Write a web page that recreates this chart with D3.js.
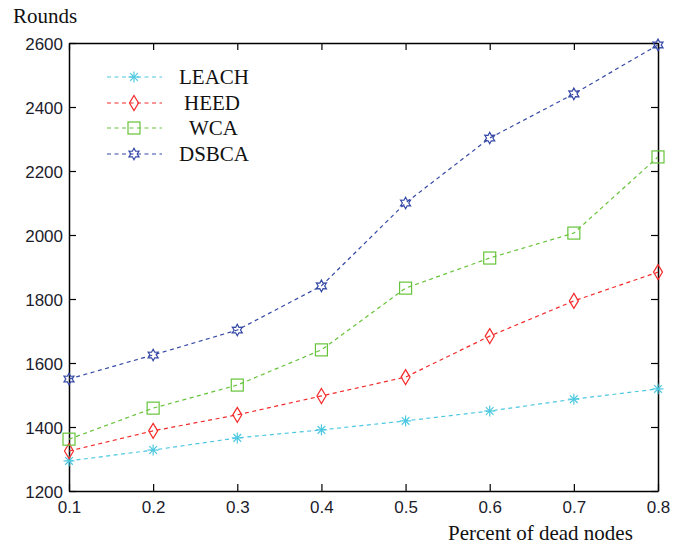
<!DOCTYPE html>
<html><head><meta charset="utf-8">
<script src="https://cdn.jsdelivr.net/npm/d3@7"></script>
<style>body{margin:0;background:#fff}svg{display:block}</style>
</head><body>
<script>
const xValues = [0.1, 0.2, 0.3, 0.4, 0.5, 0.6, 0.7, 0.8];
const leach = [1294, 1328, 1366, 1391, 1419, 1450, 1487, 1519];
const heed  = [1325, 1388, 1438, 1497, 1556, 1684, 1794, 1884];
const wca   = [1362, 1459, 1531, 1641, 1834, 1928, 2006, 2244];
const dsbca = [1550, 1625, 1703, 1841, 2100, 2303, 2441, 2594];
const seriesNames = ["LEACH", "HEED", "WCA", "DSBCA"];
const yTicks = [1200, 1400, 1600, 1800, 2000, 2200, 2400, 2600];
const xTicks = [0.1, 0.2, 0.3, 0.4, 0.5, 0.6, 0.7, 0.8];

const W = 678, H = 546;
const m = {left: 69, right: 658, top: 43, bottom: 491};
const svg = d3.select("body").append("svg").attr("width", W).attr("height", H);
const x = d3.scaleLinear().domain([0.1, 0.8]).range([m.left, m.right]);
const y = d3.scaleLinear().domain([1200, 2600]).range([m.bottom, m.top]);

const colors = ["#4cc8e0", "#f42a2a", "#66c43a", "#3549a6"];
const data = [leach, heed, wca, dsbca];
const tickFont = "'Liberation Sans', Arial, sans-serif";
const serif = "'Liberation Serif', 'Times New Roman', serif";

// axes (ticks inward)
const tl = 7;
const gx = svg.append("g").attr("transform", `translate(0,${m.bottom})`)
  .call(d3.axisBottom(x).tickValues(xTicks).tickFormat(d3.format(".1f")).tickSizeInner(-tl).tickSizeOuter(0).tickPadding(10));
const gxt = svg.append("g").attr("transform", `translate(0,${m.top})`)
  .call(d3.axisTop(x).tickValues(xTicks).tickFormat("").tickSizeInner(-tl).tickSizeOuter(0));
const gy = svg.append("g").attr("transform", `translate(${m.left},0)`)
  .call(d3.axisLeft(y).tickValues(yTicks).tickFormat(d3.format("d")).tickSizeInner(-tl).tickSizeOuter(0).tickPadding(6));
const gyr = svg.append("g").attr("transform", `translate(${m.right},0)`)
  .call(d3.axisRight(y).tickValues(yTicks).tickFormat("").tickSizeInner(-tl).tickSizeOuter(0));
[gx, gxt, gy, gyr].forEach(g => {
  g.select(".domain").attr("stroke", "#000").attr("stroke-width", 1.5);
  g.selectAll(".tick line").attr("stroke", "#000").attr("stroke-width", 1.2);
  g.selectAll("text").attr("font-family", tickFont).attr("font-size", 17).attr("fill", "#1c1c2c");
});
gy.selectAll("text").attr("dy", "0.38em");

// markers
function marker(g, type, cx, cy, color) {
  const s = g.append("g").attr("transform", `translate(${cx},${cy})`)
    .attr("fill", "none").attr("stroke", color).attr("stroke-width", 1.2);
  if (type === 0) {
    const r = 5.5;
    s.append("line").attr("x1", -r).attr("x2", r);
    s.append("line").attr("y1", -r).attr("y2", r);
    s.append("line").attr("x1", -r*0.7).attr("y1", -r*0.7).attr("x2", r*0.7).attr("y2", r*0.7);
    s.append("line").attr("x1", -r*0.7).attr("y1", r*0.7).attr("x2", r*0.7).attr("y2", -r*0.7);
  } else if (type === 1) {
    s.append("path").attr("d", "M0,-7.5 L4.5,0 L0,7.5 L-4.5,0 Z");
  } else if (type === 2) {
    s.append("rect").attr("x", -6).attr("y", -6).attr("width", 12).attr("height", 12);
  } else {
    const pts = [];
    for (let i = 0; i < 12; i++) {
      const r = i % 2 === 0 ? 5.8 : 3.2;
      const a = -Math.PI/2 + i * Math.PI/6;
      pts.push([r*Math.cos(a), r*Math.sin(a)]);
    }
    s.append("path").attr("d", "M" + pts.map(p => p.join(",")).join("L") + "Z");
  }
}

const line = d3.line().x((d, i) => x(xValues[i])).y(d => y(d));
data.forEach((vals, k) => {
  svg.append("path").attr("d", line(vals)).attr("fill", "none")
    .attr("stroke", colors[k]).attr("stroke-width", 1.2).attr("stroke-dasharray", "4,3.5");
  const g = svg.append("g");
  vals.forEach((v, i) => marker(g, k, x(xValues[i]), y(v), colors[k]));
});

// legend
const legY = [77, 103, 128, 154];
const legX = [179, 184, 189, 179];
seriesNames.forEach((n, k) => {
  svg.append("line").attr("x1", 107).attr("x2", 162).attr("y1", legY[k]).attr("y2", legY[k])
    .attr("stroke", colors[k]).attr("stroke-width", 1.2).attr("stroke-dasharray", "4,3.5");
  marker(svg, k, 134, legY[k], colors[k]);
  svg.append("text").attr("x", legX[k]).attr("y", legY[k] + 7)
    .attr("font-family", serif).attr("font-size", 21).attr("fill", "#111").text(n);
});

// axis titles
svg.append("text").attr("x", 13).attr("y", 23).attr("font-family", serif).attr("font-size", 21).attr("fill", "#111").text("Rounds");
svg.append("text").attr("x", 448).attr("y", 540).attr("font-family", serif).attr("font-size", 21).attr("fill", "#111").text("Percent of dead nodes");
</script>
</body></html>
